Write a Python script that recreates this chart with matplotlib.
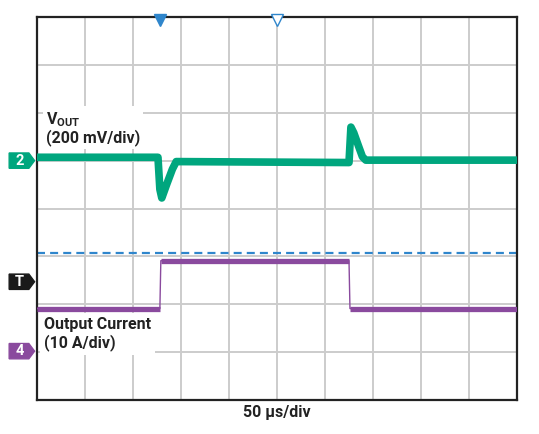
import numpy as np
import matplotlib.pyplot as plt
from matplotlib.patches import Polygon

plt.rcParams['font.family'] = ['Roboto', 'DejaVu Sans']
plt.rcParams['mathtext.fontset'] = 'custom'
plt.rcParams['mathtext.rm'] = 'Roboto'
plt.rcParams['mathtext.bf'] = 'Roboto:bold'

# trazas en divisiones (10 div horizontales x 8 div verticales)
vout_t = [0.0, 2.52, 2.56, 2.60, 2.70, 2.82, 2.90, 6.50, 6.54, 6.60, 6.70, 6.78, 6.85, 10.0]
vout_v = [5.07, 5.07, 4.40, 4.22, 4.50, 4.82, 4.98, 4.96, 5.70, 5.58, 5.30, 5.08, 5.01, 5.01]

iout_t = [0.0, 2.56, 2.58, 6.50, 6.52, 10.0]
iout_v = [1.91, 1.91, 2.91, 2.91, 1.91, 1.91]

nivel_disparo = 3.07
marcas_sup = [2.56, 5.0]          # disparo (lleno) y centro (hueco)

canales = ['2', 'T', '4']
niveles_canal = [5.0, 2.47, 1.02]
colores_canal = ['#00a67e', '#1a1a1a', '#8a4a9e']

verde = '#00a67e'
morado = '#8a4a9e'
azul = '#2f86cc'

fig = plt.figure(figsize=(5.39, 4.34), dpi=100)
ax = fig.add_axes([37 / 539, 1 - 400 / 434, 480 / 539, 383 / 434])
ax.set_xlim(0, 10)
ax.set_ylim(0, 8)
ax.set_xticks(np.arange(1, 10))
ax.set_yticks(np.arange(1, 8))
ax.tick_params(length=0, labelbottom=False, labelleft=False)
ax.grid(True, color='#cccccc', lw=1.4, zorder=0)
ax.set_axisbelow(True)
for s in ax.spines.values():
    s.set_linewidth(1.6)
    s.set_color('#222222')

# nivel de disparo
ax.axhline(nivel_disparo, color=azul, lw=1.6, dashes=(3.6, 2.3), zorder=2)

# corriente de salida: flancos finos, niveles gruesos
ax.plot(iout_t, iout_v, color=morado, lw=1.0, zorder=3)
for i in range(len(iout_t) - 1):
    if iout_v[i] == iout_v[i + 1]:
        ax.plot(iout_t[i:i + 2], iout_v[i:i + 2], color=morado, lw=3.8,
                solid_capstyle='butt', zorder=3)

# VOUT
ax.plot(vout_t, vout_v, color=verde, lw=5.5, solid_joinstyle='round', zorder=4)

# marcas superiores
ax.plot(marcas_sup[0], 7.93, marker='v', ms=8, color=azul, clip_on=False, zorder=5)
ax.plot(marcas_sup[1], 7.93, marker='v', ms=8, mfc='white', mec=azul, mew=1.0,
        clip_on=False, zorder=5)

# etiquetas de canal a la izquierda
for nombre, nivel, col in zip(canales, niveles_canal, colores_canal):
    pts = [(-0.58, nivel - 0.16), (-0.17, nivel - 0.16), (-0.05, nivel),
           (-0.17, nivel + 0.16), (-0.58, nivel + 0.16)]
    ax.add_patch(Polygon(pts, closed=True, color=col, clip_on=False, zorder=6))
    ax.text(-0.36, nivel, nombre, color='white', fontsize=10.5, fontweight='bold',
            ha='center', va='center', clip_on=False, zorder=7)

ax.text(0.18, 5.68, 'V$_{\\mathbf{OUT}}$\n(200 mV/div)', fontsize=11.5,
        fontweight='bold', color='#222222', ha='left', va='center',
        linespacing=1.05,
        bbox=dict(facecolor='white', edgecolor='none', pad=2), zorder=2.5)
ax.text(0.15, 1.38, 'Output Current\n(10 A/div)', fontsize=11.5,
        fontweight='bold', color='#222222', ha='left', va='center',
        linespacing=1.2,
        bbox=dict(facecolor='white', edgecolor='none', pad=3), zorder=2.5)

fig.text(277 / 539, 1 - 413 / 434, '50 µs/div', fontsize=11.5, fontweight='bold',
         color='#222222', ha='center', va='center')

fig.savefig('out.png', dpi=100)
